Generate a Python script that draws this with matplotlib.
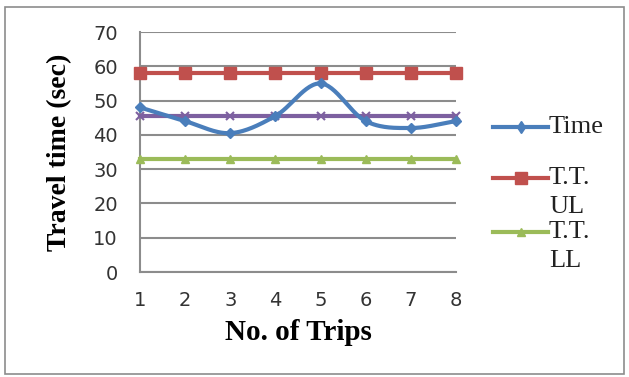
import numpy as np
import matplotlib.pyplot as plt
from matplotlib.lines import Line2D
from matplotlib.patches import Rectangle

trips = [1, 2, 3, 4, 5, 6, 7, 8]
travel_time = [48, 44, 40.5, 45.5, 55, 44, 42, 44]
upper_limit = [58, 58, 58, 58, 58, 58, 58, 58]
lower_limit = [33, 33, 33, 33, 33, 33, 33, 33]
mean_time = [45.5, 45.5, 45.5, 45.5, 45.5, 45.5, 45.5, 45.5]
y_ticks = [0, 10, 20, 30, 40, 50, 60, 70]
legend_names = [['Time'], ['T.T.', 'UL'], ['T.T.', 'LL']]


def smooth(x, y, n=30):
    # Catmull-Rom curve through the points, like a spreadsheet "smoothed line"
    x = np.asarray(x, float)
    y = np.asarray(y, float)
    px = np.concatenate([[2 * x[0] - x[1]], x, [2 * x[-1] - x[-2]]])
    py = np.concatenate([[2 * y[0] - y[1]], y, [2 * y[-1] - y[-2]]])
    xs, ys = [], []
    t = np.linspace(0, 1, n)
    for i in range(1, len(px) - 2):
        for p, out in ((px, xs), (py, ys)):
            p0, p1, p2, p3 = p[i - 1], p[i], p[i + 1], p[i + 2]
            out.extend(0.5 * (2 * p1 + (-p0 + p2) * t
                              + (2 * p0 - 5 * p1 + 4 * p2 - p3) * t ** 2
                              + (-p0 + 3 * p1 - 3 * p2 + p3) * t ** 3))
    return xs, ys


plt.rcParams['font.family'] = ['Liberation Serif', 'DejaVu Serif']

W, H = 629, 377
fig = plt.figure(figsize=(W / 100, H / 100), dpi=100)
fig.patches.append(Rectangle((5 / W, 3 / H), 619 / W, 367 / H, transform=fig.transFigure,
                             fill=False, edgecolor='#8c8c8c', linewidth=1.2))

ax = fig.add_axes([140 / W, 1 - 272 / H, 316 / W, 240 / H])

blue = '#4a7ebb'
red = '#c0504d'
green = '#9bbb59'
purple = '#7d60a0'

ax.plot(trips, upper_limit, color=red, lw=3, marker='s', ms=8, clip_on=False, zorder=3)
ax.plot(trips, lower_limit, color=green, lw=3, marker='^', ms=6, clip_on=False, zorder=3)
ax.plot(trips, mean_time, color=purple, lw=3, marker='x', ms=6, mew=1.5, clip_on=False, zorder=3)

sx, sy = smooth(trips, travel_time)
ax.plot(sx, sy, color=blue, lw=3, clip_on=False, zorder=4)
ax.plot(trips, travel_time, color=blue, lw=0, marker='D', ms=5, clip_on=False, zorder=4)

ax.set_xlim(1, 8)
ax.set_ylim(0, 70)
ax.set_yticks(y_ticks)
ax.set_xticks(trips)
ax.grid(axis='y', color='#8c8c8c', lw=1.5)
ax.set_axisbelow(True)
for side in ('top', 'right'):
    ax.spines[side].set_visible(False)
for side in ('left', 'bottom'):
    ax.spines[side].set_color('#8c8c8c')
    ax.spines[side].set_linewidth(1.5)
ax.tick_params(length=0, colors='#333333')
for lab in ax.get_xticklabels() + ax.get_yticklabels():
    lab.set_fontfamily('DejaVu Sans')
    lab.set_fontsize(14)
ax.tick_params(axis='y', pad=16)
ax.tick_params(axis='x', pad=14)

ax.set_xlabel('No. of Trips', fontsize=21, fontweight='bold', labelpad=6)
ax.set_ylabel('Travel time (sec)', fontsize=20, fontweight='bold', labelpad=15)

# legend drawn by hand: the line sits on the first text line
styles = [dict(color=blue, marker='d', ms=6),
          dict(color=red, marker='s', ms=8),
          dict(color=green, marker='^', ms=6)]
rows = [127, 178, 232]
for names, style, row in zip(legend_names, styles, rows):
    y = 1 - row / H
    fig.add_artist(Line2D([493 / W, 548 / W], [y, y], lw=3, transform=fig.transFigure,
                          color=style['color']))
    fig.add_artist(Line2D([520.5 / W], [y], lw=0, transform=fig.transFigure, **style))
    for k, name in enumerate(names):
        fig.text(549 / W, 1 - (row + 29 * k) / H, name, fontsize=19,
                 color='#222222', va='center', ha='left')

fig.savefig('out.png', dpi=100)
